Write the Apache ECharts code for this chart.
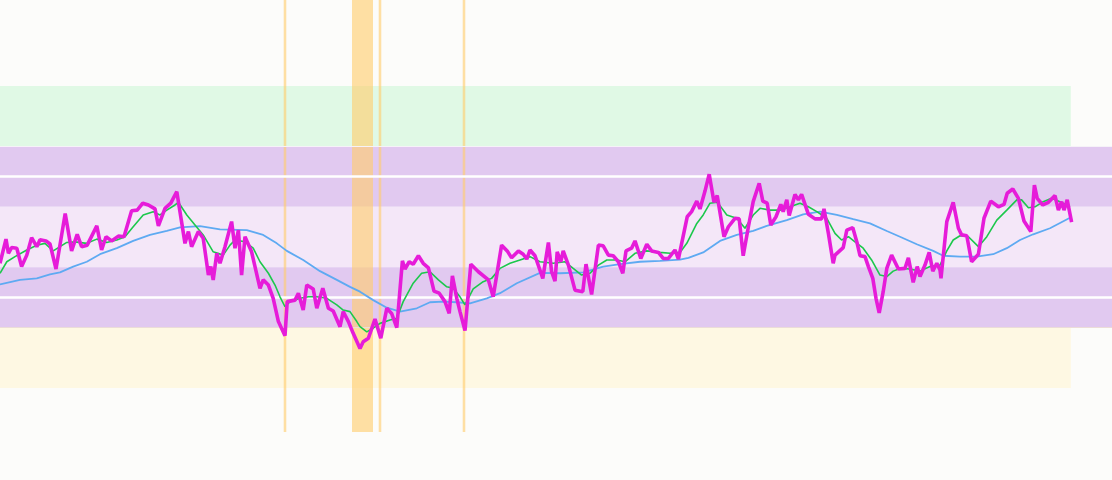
<!DOCTYPE html>
<html>
<head>
<meta charset="utf-8">
<script src="https://cdn.jsdelivr.net/npm/echarts@6/dist/echarts.min.js"></script>
<style>html,body{margin:0;padding:0;background:#fcfcfa;}#c{width:1112px;height:480px;}</style>
</head>
<body>
<div id="c"></div>
<script>
// RSI-like oscillator, x = day index
const rsi = [
[0,41.3],[1.5,49.3],[2.1,44.6],[2.9,46.5],[4.2,46.3],[5.4,40.2],[6.7,44.0],[7.9,49.8],[9.2,46.8],[10,49.1],
[11.5,48.7],[12.5,47.7],[14,39.4],[16.3,57.8],[17.9,45.4],[19.3,50.9],[20.4,46.8],[21.8,47.3],[24.2,53.7],[25.4,45.7],
[26.5,50.1],[27.9,48.7],[29.6,50.3],[31,50.1],[32.9,58.7],[34.3,58.9],[35.7,61.2],[37.1,60.6],[38.75,59.3],[39.6,53.7],
[41.25,59.5],[42.7,61.2],[44.2,65.0],[46.25,47.9],[47.1,51.8],[47.9,46.8],[49.6,51.8],[50.8,49.6],[52.1,37.4],[52.7,40.2],
[53.3,35.8],[54.2,44.6],[55,41.3],[56.25,46.8],[57.9,55.1],[58.75,46.3],[59.6,52.3],[60.4,37.4],[61.25,50.1],[62.9,45.1],
[65,33.0],[65.8,35.8],[67.1,34.1],[68.3,29.7],[69.6,22.0],[71.25,17.3],[71.8,28.6],[73.75,29.1],[74.6,31.4],[75.8,25.8],
[76.7,34.1],[78.3,32.8],[79.2,26.4],[80.7,33.0],[82.1,26.4],[83.3,25.5],[85,20.3],[85.8,25.3],[87.1,22.0],[88.3,18.1],
[90,13.1],[90.8,15.3],[92.1,16.5],[93.75,22.8],[95.2,16.5],[96.7,26.4],[97.9,24.7],[99.2,20.0],[100.6,42.1],[101.25,39.4],
[102.3,41.8],[103.3,41.0],[104.6,43.8],[105.8,41.3],[107.1,39.8],[108.5,32.1],[109.8,31.4],[111.25,28.6],[112.3,24.7],[113.1,37.1],
[114.2,29.7],[115,25.3],[116.25,19.0],[117.7,41.0],[119.6,38.5],[122.1,35.8],[123.3,30.2],[125.4,47.3],[126.8,45.4],[127.9,43.1],
[129.6,45.4],[130.8,44.3],[131.7,42.7],[132.5,45.7],[133.75,43.8],[135.7,36.3],[137.1,48.2],[137.9,38.5],[138.75,35.4],[139.3,45.1],
[140.2,41.8],[140.8,45.4],[142.1,40.7],[143.75,32.4],[145.7,31.9],[146.5,41.0],[147.9,31.0],[149.6,47.3],[150.8,47.1],[152.1,44.0],
[153.3,43.8],[154.6,41.8],[155.7,38.0],[156.5,45.4],[157.9,46.3],[158.75,48.7],[160.2,42.9],[161.7,47.6],[162.9,45.4],[164.6,44.9],
[165.8,42.9],[167.1,42.9],[168.75,45.7],[169.6,42.7],[171.8,56.7],[172.9,58.4],[174.2,61.9],[175,59.3],[176.25,65.2],[177.3,70.8],
[178.5,61.5],[179.3,63.7],[181,50.1],[182.1,53.4],[183.75,56.2],[184.8,56.0],[185.8,43.8],[187.1,53.4],[188.3,61.7],[189.8,67.8],
[190.7,61.9],[191.8,61.2],[192.7,54.0],[194,56.7],[195.2,60.8],[195.8,58.4],[196.7,62.3],[197.3,57.1],[198.75,64.1],[199.6,62.3],
[200.4,64.1],[202.1,57.5],[203.75,56.0],[205.4,56.0],[206,59.3],[207.1,51.2],[208.3,41.3],[208.75,44.0],[210.8,46.5],[211.7,52.3],
[213.2,53.1],[214.3,47.9],[215,43.8],[216.25,43.5],[217.1,40.2],[218.2,36.3],[219,29.7],[219.8,24.9],[220.8,31.9],[221.7,39.6],
[222.9,44.0],[224.6,39.4],[226.25,39.6],[227.1,43.1],[228.3,35.0],[229.3,40.2],[230,36.9],[231.25,40.7],[232.3,44.9],[233.2,38.7],
[234.2,41.3],[235,39.1],[235.25,36.3],[236.7,55.1],[238.3,61.5],[239.6,52.9],[240.4,50.7],[241.7,50.4],[242.9,41.8],[244.6,44.3],
[246,56.2],[247.7,61.9],[249.6,60.0],[251,60.8],[251.8,64.5],[253.2,65.9],[254.6,62.8],[256,55.3],[257.7,51.8],[258.6,67.2],
[259.3,62.8],[260.7,60.6],[262.1,61.5],[263.75,63.7],[264.6,58.9],[265.4,61.7],[266,58.9],[266.8,62.3],[267.9,54.9]
];
const fastAvg = [
[0,38.0],[1.7,41.8],[3.75,43.5],[6.7,45.7],[9.2,47.3],[11.25,47.9],[13.3,45.4],[16.7,48.2],[18.75,48.4],[21.7,47.9],
[24.2,49.3],[26.7,48.2],[29.2,49.0],[31.25,50.1],[33.3,53.4],[35.8,57.3],[38.3,58.4],[40,57.3],[41.7,58.9],[43.75,60.6],
[44.6,61.5],[46.7,57.3],[48.75,54.0],[50.8,50.7],[53.3,45.1],[55.8,44.0],[57.5,47.3],[58.75,49.0],[61.25,48.4],[63.3,46.3],
[65,41.8],[67.1,38.0],[68.75,34.1],[70,30.2],[71.25,26.9],[72.5,28.6],[75,29.7],[77.1,30.2],[79.2,30.2],[81.7,29.7],
[84.2,27.5],[85.8,25.8],[87.5,25.3],[89.2,22.0],[90,20.3],[91.7,18.6],[93.3,19.8],[95,21.4],[97.5,22.5],[99.2,23.1],
[100.8,28.6],[103.3,34.7],[105.4,38.0],[107.5,38.5],[109.6,35.8],[111.7,33.5],[113.3,33.0],[115,30.2],[116.25,27.5],[118.3,32.8],
[120.8,35.2],[122.9,36.3],[125,39.6],[127.5,41.3],[130,42.4],[132.5,43.5],[135,41.8],[138.3,41.3],[141.25,41.8],[143.3,39.6],
[145.4,37.4],[147.5,38.0],[149.6,40.7],[151.7,42.4],[154.2,42.4],[156.25,41.8],[158.75,44.6],[161.7,45.4],[165,44.9],[167.5,44.6],
[170,44.9],[171.7,47.9],[174.2,54.5],[175.8,57.3],[177.5,61.2],[179.2,61.5],[180,60.4],[181.7,57.3],[184.2,56.2],[186.25,52.9],
[188.3,57.3],[190,59.5],[192.5,58.9],[195,58.9],[197.5,60.0],[200,61.2],[202.1,60.0],[204.2,58.4],[206.7,56.2],[208.75,51.2],
[210.4,49.0],[212.1,50.1],[213.75,48.4],[215.8,46.3],[217.9,42.4],[220,37.4],[221.7,36.9],[223.3,38.7],[225,39.6],[227.5,39.4],
[230,38.7],[232.5,40.2],[235,40.7],[236.7,45.4],[238.3,49.0],[240,50.4],[242.1,50.1],[244.6,46.8],[246.7,50.1],[249.2,55.6],
[251.7,58.9],[254.2,62.3],[255.4,62.3],[257.1,59.7],[258.75,60.0],[260.8,61.7],[262.9,62.8],[265,61.7],[267.5,60.0]
];
const slowAvg = [
[0,34.3],[5,35.8],[9.2,36.3],[12.5,37.6],[15,38.3],[18.3,40.2],[21.7,41.8],[25,44.3],[29.2,46.3],[33.3,48.7],
[37.5,50.7],[41.7,52.0],[45,53.2],[50,53.6],[55,52.5],[61.7,52.3],[65.8,50.7],[69.2,47.9],[71.7,45.4],[75.8,42.4],
[80,38.7],[84.2,35.8],[87.5,33.5],[90,31.9],[93.3,29.1],[96.7,26.6],[100,25.3],[104.2,26.4],[107.5,28.4],[110.8,28.6],
[114.2,28.4],[117.5,28.0],[121.7,29.7],[125,31.4],[129.2,34.7],[135,38.1],[140,38.0],[145.8,38.3],[150.8,40.2],[155,41.0],
[160,41.8],[165,42.1],[170,42.5],[172.1,43.1],[175.8,44.9],[180,48.7],[184.2,50.7],[188.3,52.0],[191.7,53.7],[196.7,55.6],
[200.8,57.5],[205,58.4],[209.2,57.3],[213.3,55.9],[217.5,54.5],[221.7,52.0],[225,50.1],[229.2,47.6],[233.3,45.4],[235.8,43.8],
[240,43.5],[244.2,43.5],[248.3,44.3],[251.7,46.3],[255,49.0],[258.3,50.9],[262.5,52.9],[267.5,56.4]
];
// zone levels
const zoneLevels = [0, 20, 30, 40, 60, 70, 80, 100];
const markerDays = [71.25, 95, 116];
const markerSpan = [88, 93.25];
const dataStart = 0, dataEnd = 267.7;

const chart = echarts.init(document.getElementById('c'), null, {renderer: 'canvas'});
chart.setOption({
  animation: false,
  backgroundColor: '#fcfcfa',
  grid: {left: 0, right: 0, top: 0, bottom: 48},
  xAxis: {type: 'value', min: 0, max: 278, show: false},
  yAxis: {type: 'value', min: -14.57, max: 128.48, show: false, splitLine: {show: false}},
  series: [
    {
      type: 'line', data: [], z: 1,
      markArea: {
        silent: true,
        data: [
          [{xAxis: dataStart, yAxis: zoneLevels[6], itemStyle: {color: '#e0f9e5'}}, {xAxis: dataEnd, yAxis: zoneLevels[7]}],
          [{yAxis: zoneLevels[4], itemStyle: {color: '#e1c9f0'}}, {yAxis: zoneLevels[6]}],
          [{yAxis: zoneLevels[3], itemStyle: {color: '#f4e7f8'}}, {yAxis: zoneLevels[4]}],
          [{yAxis: zoneLevels[1], itemStyle: {color: '#e1c9f0'}}, {yAxis: zoneLevels[3]}],
          [{xAxis: dataStart, yAxis: zoneLevels[0], itemStyle: {color: '#fef8e3'}}, {xAxis: dataEnd, yAxis: zoneLevels[1]}]
        ]
      },
      markLine: {
        silent: true, symbol: 'none', label: {show: false},
        data: [
          {yAxis: zoneLevels[5], lineStyle: {color: '#ffffff', width: 2.5, type: 'solid'}},
          {yAxis: zoneLevels[2], lineStyle: {color: '#ffffff', width: 2.5, type: 'solid'}},
          {yAxis: zoneLevels[6], lineStyle: {color: '#f6f2f8', width: 1, type: 'solid'}},
          {yAxis: zoneLevels[1], lineStyle: {color: '#ebdcd8', width: 1, type: 'solid'}}
        ]
      }
    },
    {
      type: 'line', data: [], z: 2,
      markArea: {
        silent: true,
        itemStyle: {color: 'rgba(255, 205, 110, 0.62)'},
        data: [[{xAxis: markerSpan[0]}, {xAxis: markerSpan[1]}]].concat(
          markerDays.map(d => [{xAxis: d - 0.32}, {xAxis: d + 0.32}]))
      }
    },
    {
      name: 'slow', type: 'line', data: slowAvg, z: 10, symbol: 'none', smooth: false,
      lineStyle: {color: '#5eaaf2', width: 1.8}
    },
    {
      name: 'fast', type: 'line', data: fastAvg, z: 11, symbol: 'none',
      lineStyle: {color: '#1cc84c', width: 1.6}
    },
    {
      name: 'rsi', type: 'line', data: rsi, z: 12, symbol: 'none',
      lineStyle: {color: '#e61cd9', width: 3.6}
    }
  ]
});
</script>
</body>
</html>
